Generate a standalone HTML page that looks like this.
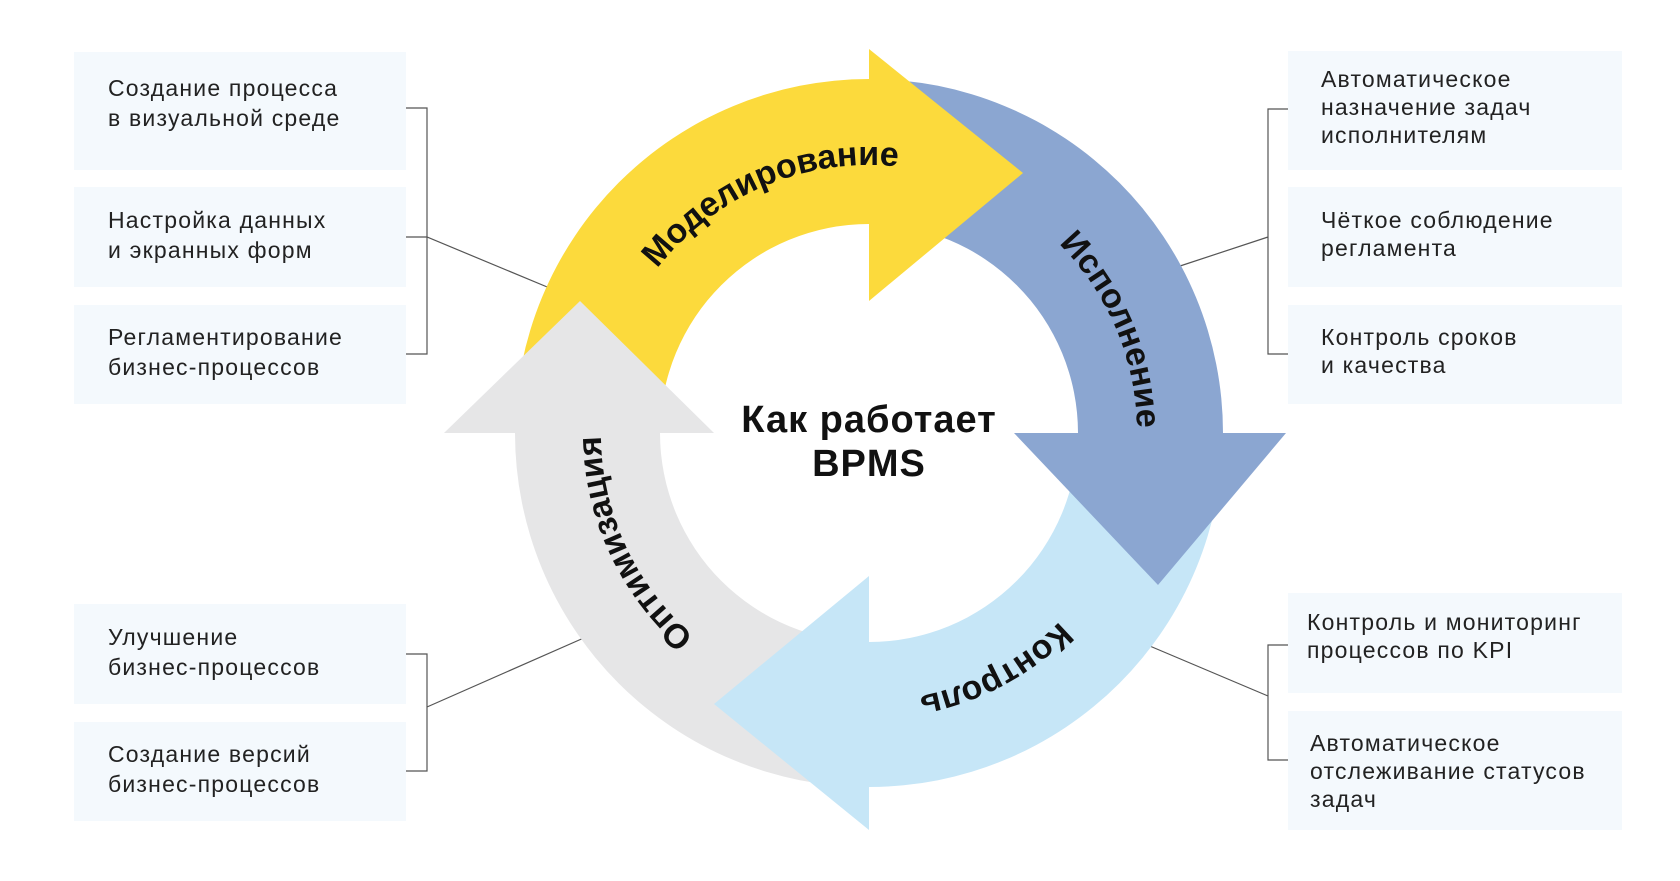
<!DOCTYPE html>
<html><head><meta charset="utf-8"><style>
html,body{margin:0;padding:0;background:#fff;}
body{width:1680px;height:881px;position:relative;overflow:hidden;font-family:"Liberation Sans","Noto Sans CJK SC",sans-serif;}
.b{position:absolute;background:#f4f9fd;color:#222;font-size:23px;letter-spacing:1.2px;line-height:30px;box-sizing:border-box;white-space:nowrap;}
</style></head><body>
<div class="b" style="left:74px;top:52px;width:332px;height:118px;padding:21px 0 0 34px">Создание процесса<br>в визуальной среде</div>
<div class="b" style="left:74px;top:187px;width:332px;height:100px;padding:18px 0 0 34px">Настройка данных<br>и экранных форм</div>
<div class="b" style="left:74px;top:305px;width:332px;height:99px;padding:17px 0 0 34px">Регламентирование<br>бизнес-процессов</div>
<div class="b" style="left:74px;top:604px;width:332px;height:100px;padding:18px 0 0 34px">Улучшение<br>бизнес-процессов</div>
<div class="b" style="left:74px;top:722px;width:332px;height:99px;padding:17px 0 0 34px">Создание версий<br>бизнес-процессов</div>
<div class="b" style="left:1288px;top:51px;width:334px;height:119px;padding:14px 0 0 33px;line-height:28px">Автоматическое<br>назначение задач<br>исполнителям</div>
<div class="b" style="left:1288px;top:187px;width:334px;height:100px;padding:19px 0 0 33px;line-height:28px">Чёткое соблюдение<br>регламента</div>
<div class="b" style="left:1288px;top:305px;width:334px;height:99px;padding:18px 0 0 33px;line-height:28px">Контроль сроков<br>и качества</div>
<div class="b" style="left:1288px;top:593px;width:334px;height:100px;padding:15px 0 0 19px;line-height:28px">Контроль и мониторинг<br>процессов по KPI</div>
<div class="b" style="left:1288px;top:711px;width:334px;height:119px;padding:18px 0 0 22px;line-height:28px">Автоматическое<br>отслеживание статусов<br>задач</div>
<svg width="1680" height="881" style="position:absolute;left:0;top:0" xmlns="http://www.w3.org/2000/svg">
<g fill="none" stroke="#555" stroke-width="1.2">
<path d="M406 108H427V354H406M406 237H427L552 289"/>
<path d="M406 654H427V771H406M427 707L586 637"/>
<path d="M1288 109H1268V354H1288M1268 237L1177 267"/>
<path d="M1288 645H1268V760H1288M1268 696L1145 644"/>
</g>
<path d="M515 433A354 354 0 0 1 869 79L869 224A209 209 0 0 0 660 433Z" fill="#fcda3c"/>
<path d="M869 79A354 354 0 0 1 1223 433L1078 433A209 209 0 0 0 869 224Z" fill="#8ba6d1"/>
<path d="M1223 433A354 354 0 0 1 869 787L869 642A209 209 0 0 0 1078 433Z" fill="#c6e6f7"/>
<path d="M869 787A354 354 0 0 1 515 433L660 433A209 209 0 0 0 869 642Z" fill="#e6e6e7"/>
<polygon points="869,49 1023,173 869,301" fill="#fcda3c"/>
<polygon points="1014,433 1286,433 1158,585" fill="#8ba6d1"/>
<polygon points="869,576 869,830 714,704" fill="#c6e6f7"/>
<polygon points="444,433 714,433 580,301" fill="#e6e6e7"/>
<defs>
<path id="p1" d="M612.7 354.7A268 268 0 0 1 990.7 194.2"/>
<path id="p2" d="M947.4 176.7A268 268 0 0 1 1107.8 554.7"/>
<path id="p3" d="M1131.1 488.7A268 268 0 0 1 768.6 681.5"/>
<path id="p4" d="M799.6 691.9A268 268 0 0 1 626.1 319.7"/>
</defs>
<g font-family="Liberation Sans, sans-serif" font-weight="bold" font-size="34" fill="#111" text-anchor="middle">
<text><textPath href="#p1" startOffset="50%">Моделирование</textPath></text>
<text><textPath href="#p2" startOffset="50%">Исполнение</textPath></text>
<text><textPath href="#p3" startOffset="50%">Контроль</textPath></text>
<text><textPath href="#p4" startOffset="50%">Оптимизация</textPath></text>
</g>
<g font-family="Liberation Sans, sans-serif" font-weight="bold" font-size="38" fill="#111" text-anchor="middle" letter-spacing="1">
<text x="869" y="432">Как работает</text>
<text x="869" y="476">BPMS</text>
</g>
</svg>
</body></html>
